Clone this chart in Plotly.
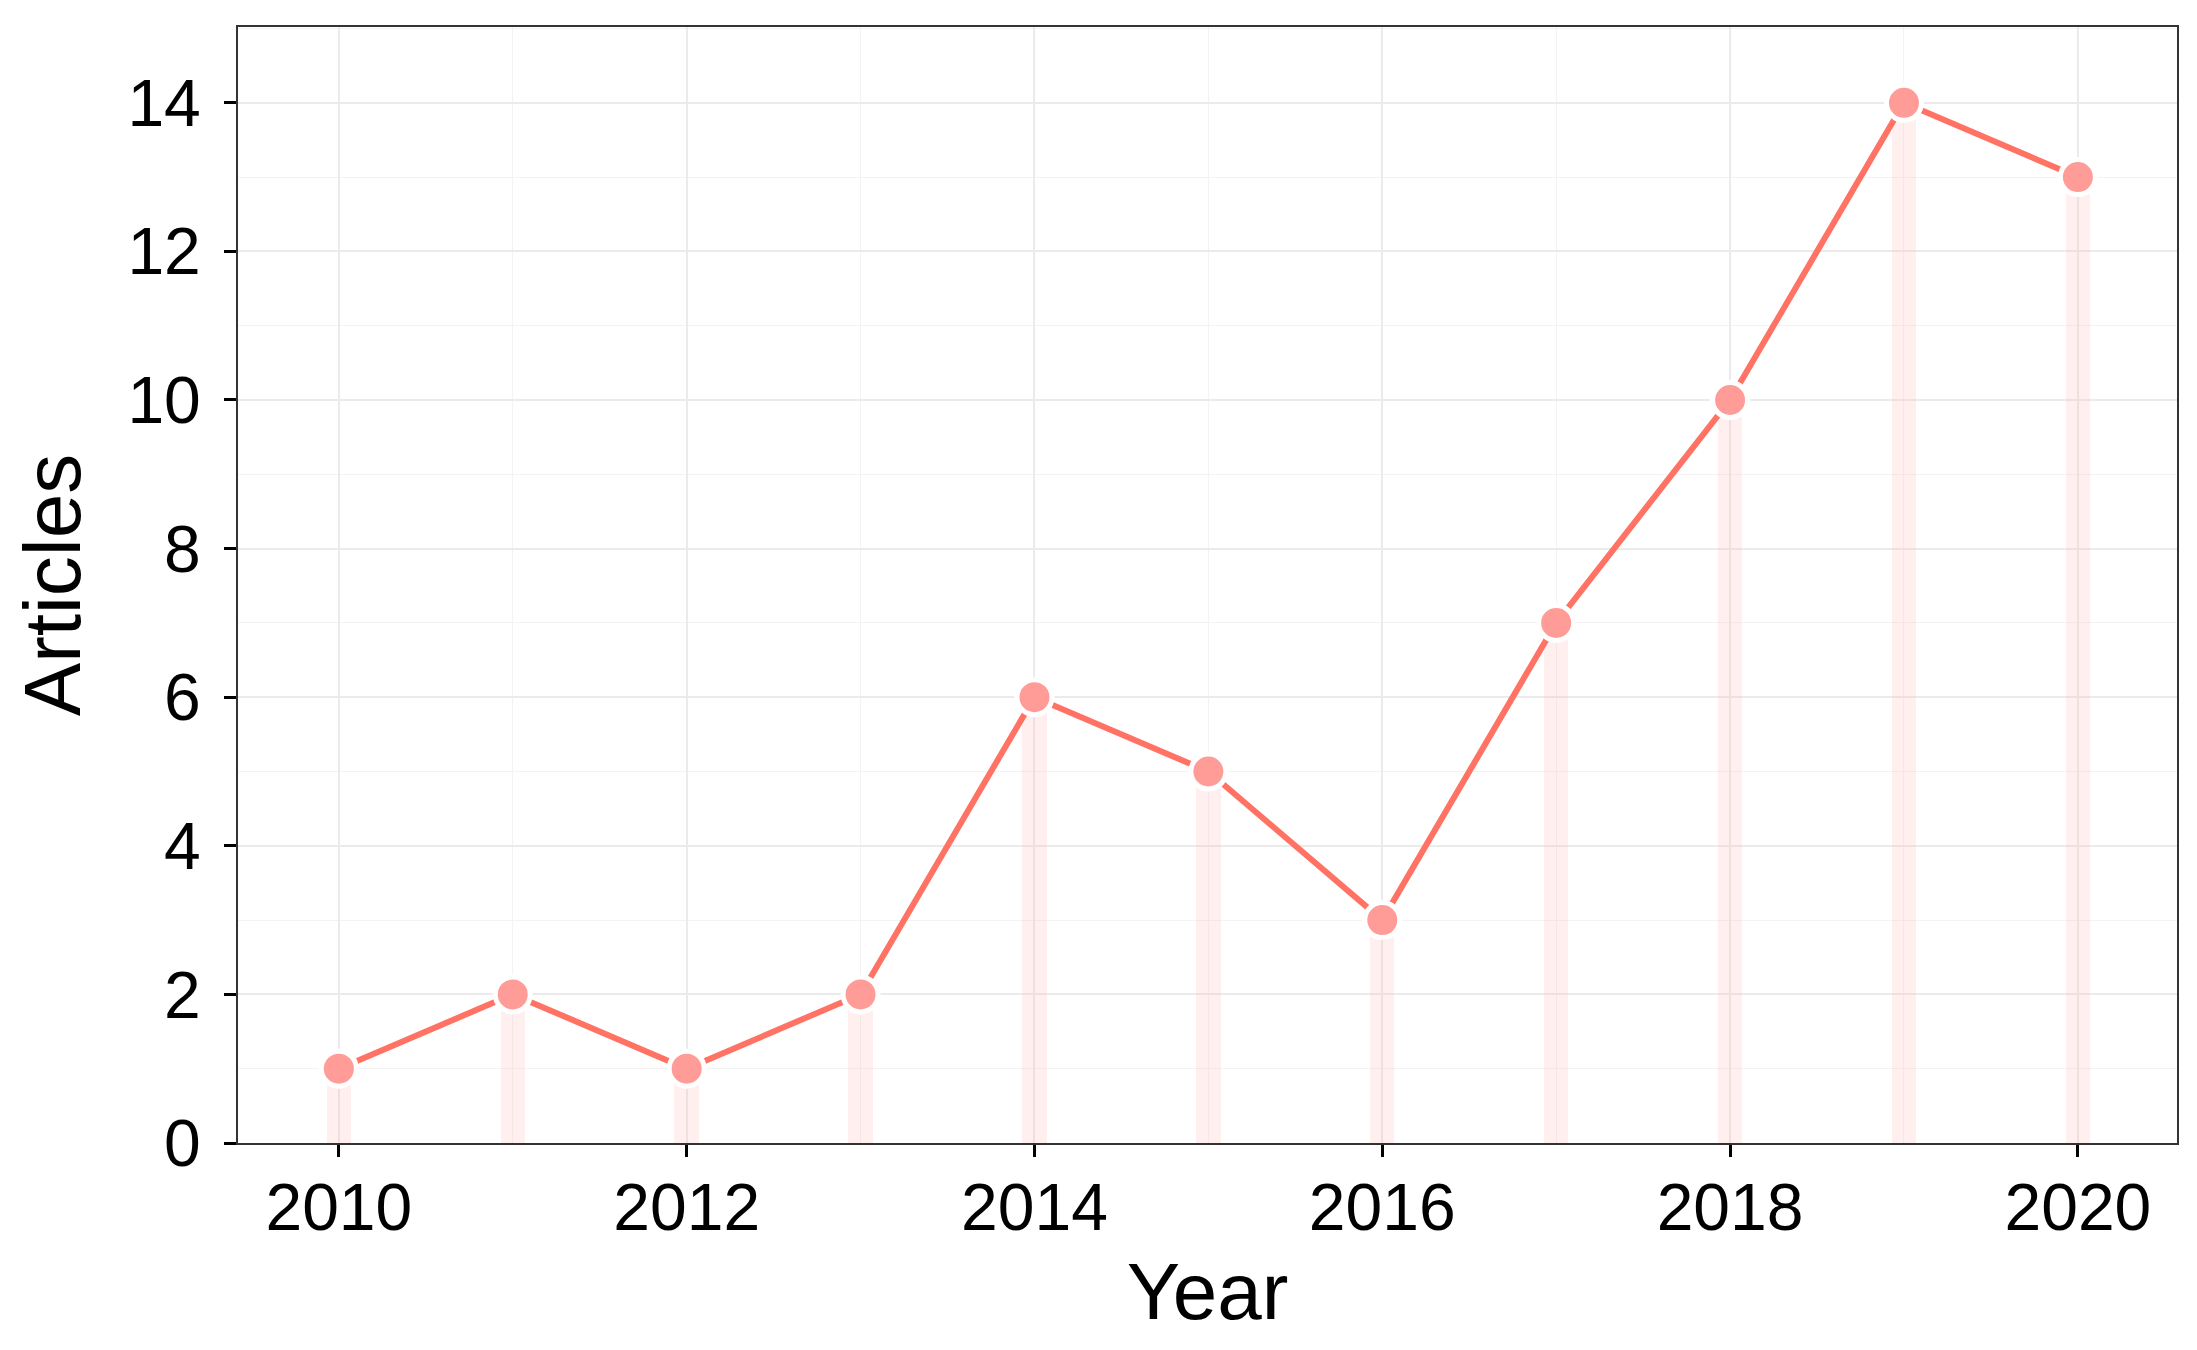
import plotly.graph_objects as go

years = [2010, 2011, 2012, 2013, 2014, 2015, 2016, 2017, 2018, 2019, 2020]
articles = [1, 2, 1, 2, 6, 5, 3, 7, 10, 14, 13]

fig = go.Figure()

# faint background bars under each point
fig.add_trace(go.Bar(
    x=years, y=articles, width=0.14,
    marker=dict(color="rgba(255,175,175,0.2)", line=dict(width=0)),
    hoverinfo="skip", showlegend=False,
))

fig.add_trace(go.Scatter(
    x=years, y=articles, mode="lines+markers",
    line=dict(color="#FF7264", width=6),
    marker=dict(size=35, color="#FF9C98", line=dict(color="white", width=5)),
    showlegend=False,
))

font = "Liberation Sans, Arial, sans-serif"
fig.update_layout(
    width=2197, height=1350,
    margin=dict(l=230, r=28, t=19, b=215),
    paper_bgcolor="white", plot_bgcolor="white",
    font=dict(family=font, color="black"),
    bargap=0,
    xaxis=dict(
        range=[2009.42, 2020.57],
        tickmode="array", tickvals=[2010, 2012, 2014, 2016, 2018, 2020],
        ticktext=["2010", "2012", "2014", "2016", "2018", "2020"],
        tickfont=dict(size=66, color="black"),
        ticks="outside", ticklen=12, tickwidth=2.5, tickcolor="black",
        ticklabelstandoff=-6,
        showgrid=True, gridcolor="#EBEBEB", gridwidth=2,
        minor=dict(dtick=1, tick0=2011, showgrid=True, gridcolor="#F3F3F3", gridwidth=1.2),
        showline=True, linecolor="#333333", linewidth=2, mirror=True,
        zeroline=False,
        title=dict(text="Year", font=dict(size=80, color="black"), standoff=20),
    ),
    yaxis=dict(
        range=[0, 15.02],
        tickmode="array", tickvals=[0, 2, 4, 6, 8, 10, 12, 14],
        tickfont=dict(size=66, color="black"),
        ticks="outside", ticklen=12, tickwidth=2.5, tickcolor="black",
        ticklabelstandoff=10,
        showgrid=True, gridcolor="#EBEBEB", gridwidth=2,
        minor=dict(dtick=1, tick0=1, showgrid=True, gridcolor="#F3F3F3", gridwidth=1.2),
        showline=True, linecolor="#333333", linewidth=2, mirror=True,
        zeroline=False,
        title=dict(text="Articles", font=dict(size=80, color="black"), standoff=26),
    ),
)

fig.write_html("out.html")
